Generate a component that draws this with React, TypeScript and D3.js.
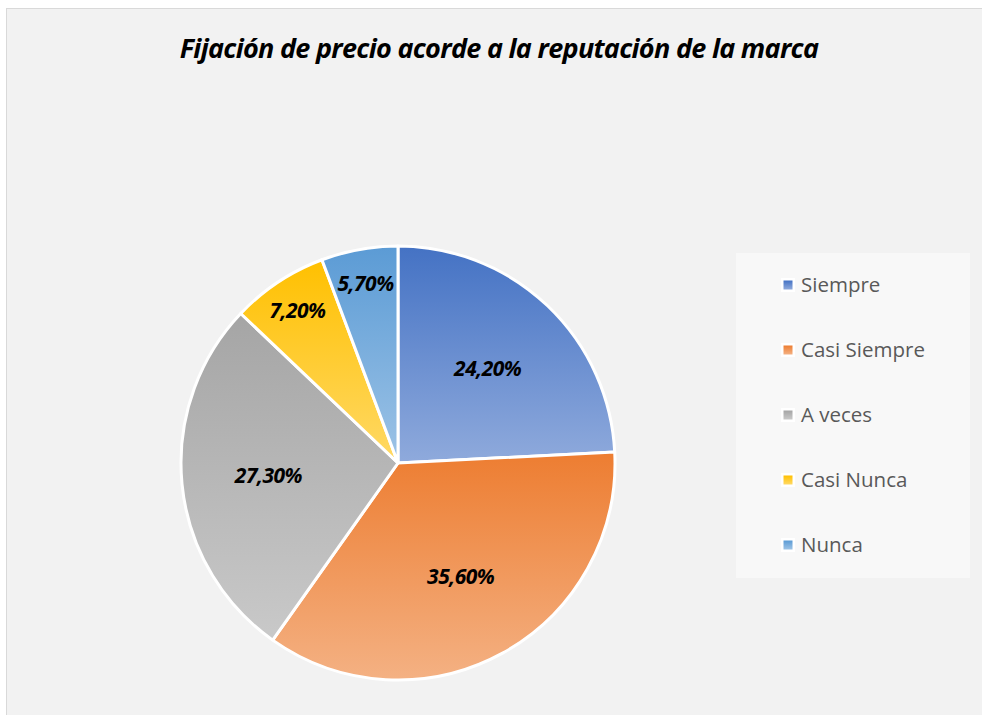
import React from "react";
import * as d3 from "d3";

const categories = ["Siempre", "Casi Siempre", "A veces", "Casi Nunca", "Nunca"];
const values = [24.2, 35.6, 27.3, 7.2, 5.7];
const labels = ["24,20%", "35,60%", "27,30%", "7,20%", "5,70%"];
const colorsDark = ["#4472C4", "#ED7D31", "#A5A5A5", "#FFC000", "#5B9BD5"];
const colorsLight = ["#8FAADC", "#F4B183", "#C9C9C9", "#FFD966", "#9DC3E6"];
const title = "Fijación de precio acorde a la reputación de la marca";

export default function App() {
  const W = 982, H = 715;
  const cx = 398, cy = 463, r = 217;
  const pie = d3.pie<number>().sort(null).value((d) => d);
  const arcs = pie(values);
  const arc = d3.arc<d3.PieArcDatum<number>>().innerRadius(0).outerRadius(r);
  const labelPos = (a: d3.PieArcDatum<number>) => {
    const frac = a.data < 10 ? 0.84 : 0.6;
    const mid = (a.startAngle + a.endAngle) / 2;
    return [Math.sin(mid) * r * frac, -Math.cos(mid) * r * frac];
  };
  const legendY = d3.scalePoint<string>().domain(categories).range([285, 545]);

  return (
    <svg width={W} height={H} style={{ position: "absolute", left: 0, top: 0 }}>
      <defs>
        {categories.map((c, i) => (
          <linearGradient key={c} id={`g${i}`} x1="0" y1="0" x2="0" y2="1">
            <stop offset="0" stopColor={colorsDark[i]} />
            <stop offset="1" stopColor={colorsLight[i]} />
          </linearGradient>
        ))}
      </defs>
      <rect x={0} y={0} width={W} height={H} fill="#ffffff" />
      <rect x={6.5} y={8.5} width={W + 10} height={H + 10} fill="#f2f2f2" stroke="#d9d9d9" strokeWidth={1} />
      <text
        x={499}
        y={58}
        textAnchor="middle"
        fontFamily="'Open Sans', 'Liberation Sans', sans-serif"
        fontWeight="bold"
        fontStyle="italic"
        fontSize={27}
        fill="#000"
        letterSpacing={-0.7}
      >
        {title}
      </text>
      <g transform={`translate(${cx},${cy})`}>
        {arcs.map((a, i) => (
          <path key={i} d={arc(a) || ""} fill={`url(#g${i})`} stroke="#ffffff" strokeWidth={3} strokeLinejoin="round" />
        ))}
        {arcs.map((a, i) => {
          const [x, y] = labelPos(a);
          return (
            <text
              key={"l" + i}
              x={x}
              y={y}
              dy="0.35em"
              textAnchor="middle"
              fontFamily="'Open Sans', 'Liberation Sans', sans-serif"
              fontWeight="bold"
              fontStyle="italic"
              fontSize={21}
              letterSpacing={-0.5}
              fill="#000"
            >
              {labels[i]}
            </text>
          );
        })}
      </g>
      <rect x={736} y={253} width={234} height={325} fill="#f8f8f8" />
      {categories.map((c, i) => {
        const y = legendY(c) as number;
        return (
          <g key={c}>
            <rect x={781} y={y - 7} width={14} height={14} fill="#ffffff" />
            <rect x={783.5} y={y - 4.5} width={9} height={9} fill={`url(#g${i})`} />
            <text
              x={801}
              y={y}
              dy="0.35em"
              fontFamily="'Open Sans', 'Noto Sans', sans-serif"
              fontSize={20.5}
              fill="#595959"
            >
              {c}
            </text>
          </g>
        );
      })}
    </svg>
  );
}
